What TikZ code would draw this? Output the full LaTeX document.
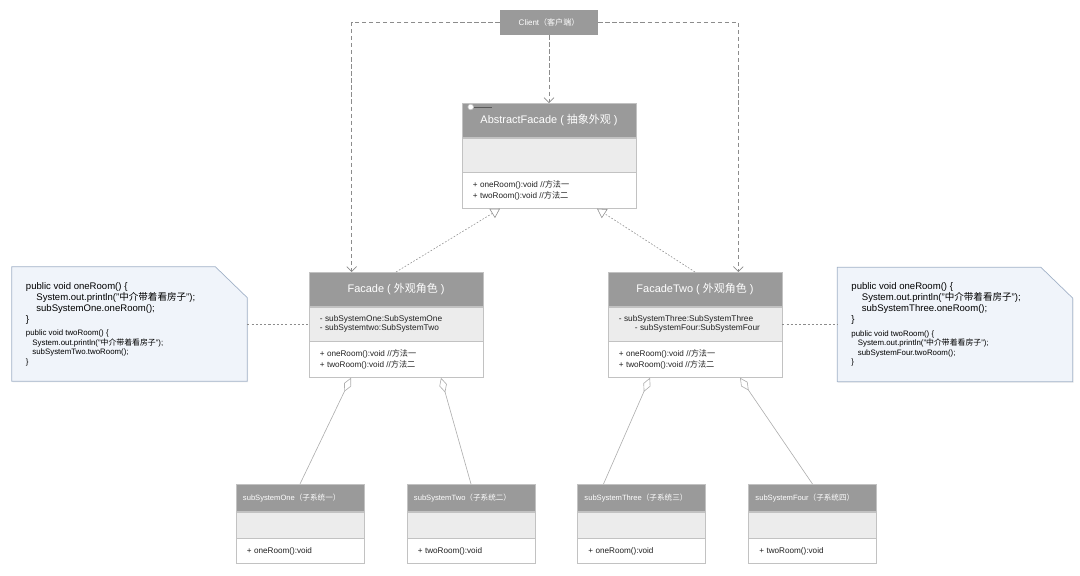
\documentclass[tikz,border=0pt]{standalone}
\usepackage{fontspec}
\setmainfont{Liberation Sans}
\newfontfamily\cjk{Noto Sans CJK SC}
\newcommand{\zh}[1]{{\cjk #1}}
\usetikzlibrary{positioning,arrows.meta,calc,backgrounds,shadows}
\definecolor{hdrgray}{HTML}{9A9A9A}
\definecolor{midgray}{HTML}{ECECEC}
\definecolor{boxline}{HTML}{C2C2C2}
\definecolor{notefill}{HTML}{F0F4FA}
\definecolor{noteline}{HTML}{A2B2C8}
\definecolor{linkgray}{HTML}{8C8C8C}
\definecolor{textgray}{HTML}{222222}

\begin{document}
\begin{tikzpicture}
  [x=0.025cm,y=-0.025cm,
   clshead/.style={draw=boxline,fill=hdrgray,text=white,minimum width=4.35cm,minimum height=0.85cm,inner sep=0pt,font=\fontsize{7.8}{9}\selectfont},
   clsattr/.style={draw=boxline,fill=midgray,text=textgray,text width=3.8cm,inner xsep=0.275cm,inner ysep=0pt,minimum height=0.85cm,align=flush left,font=\fontsize{5.9}{6.1}\selectfont},
   clsmeth/.style={clsattr,fill=white,minimum height=0.9cm,font=\fontsize{5.8}{8.4}\selectfont},
   subhead/.style={clshead,minimum width=3.2cm,text width=2.85cm,inner xsep=0.175cm,minimum height=0.675cm,align=flush left,font=\fontsize{5.4}{6.5}\selectfont},
   subattr/.style={clsattr,minimum width=3.2cm,text width=2.65cm,minimum height=0.65cm},
   submeth/.style={subattr,fill=white,minimum height=0.625cm,font=\fontsize{5.8}{7}\selectfont},
   clienthead/.style={fill=hdrgray,text=white,minimum width=2.45cm,minimum height=0.625cm,inner sep=0pt,font=\fontsize{5.7}{7}\selectfont},
   notebox/.style={minimum width=5.875cm,minimum height=2.85cm,text width=5.175cm,inner xsep=0.35cm,inner ysep=0pt,align=flush left,text=black},
   noteshape/.style={draw=noteline,fill=notefill,line width=0.5pt,drop shadow={opacity=0.12,shadow xshift=0.6pt,shadow yshift=-0.8pt}},
   dep/.style={draw=linkgray,line width=0.5pt,dash pattern=on 3pt off 2pt,-{Straight Barb[length=3.5pt,width=7pt]}},
   real/.style={draw=linkgray,line width=0.4pt,dash pattern=on 1.2pt off 1.2pt,-{Triangle[open,length=6.5pt,width=7.5pt]}},
   aggr/.style={draw=boxline!90!black,line width=0.45pt,{Diamond[open,length=11pt,width=5.5pt]}-},
   notelink/.style={draw=linkgray,line width=0.4pt,dash pattern=on 1.5pt off 1.5pt}]
  \useasboundingbox (0,0) rectangle (1080,575);

  % client
  \node[clienthead] (client) at (549,22.5) {Client\zh{（客户端）}};

  % abstract facade
  \node[clshead,anchor=north] (af) at (549,103) {AbstractFacade ( \zh{抽象外观} )};
  \node[clsattr,below=0pt of af] (afa) {};
  \node[clsmeth,below=0pt of afa] (afm) {+ oneRoom():void //\zh{方法一}\\+ twoRoom():void //\zh{方法二}};
  \draw[black!65,line width=0.4pt] ($(af.north west)+(12,4)$) -- ++(18,0);
  \draw[boxline,fill=white] ($(af.north west)+(9,4)$) circle[radius=2pt];

  % facades
  \node[clshead,anchor=north] (fac) at (396,272) {Facade ( \zh{外观角色} )};
  \node[clsattr,below=0pt of fac] (faca) {- subSystemOne:SubSystemOne\\- subSystemtwo:SubSystemTwo};
  \node[clsmeth,below=0pt of faca] (facm) {+ oneRoom():void //\zh{方法一}\\+ twoRoom():void //\zh{方法二}};

  \node[clshead,anchor=north] (factwo) at (695,272) {FacadeTwo ( \zh{外观角色} )};
  \node[clsattr,below=0pt of factwo] (factwoa) {- subSystemThree:SubSystemThree\\\hspace*{0.4cm}- subSystemFour:SubSystemFour};
  \node[clsmeth,below=0pt of factwoa] (factwom) {+ oneRoom():void //\zh{方法一}\\+ twoRoom():void //\zh{方法二}};

  % subsystems
  \foreach \nm/\x/\nme/\zhn/\op in {sub1/300/One/一/oneRoom,sub2/471/Two/二/twoRoom,sub3/641.5/Three/三/oneRoom,sub4/812.5/Four/四/twoRoom}{
    \node[subhead,anchor=north] (\nm) at (\x,484) {subSystem\nme\zh{（子系统\zhn）}};
    \node[subattr,below=0pt of \nm] (\nm a) {};
    \node[submeth,below=0pt of \nm a] (\nm m) {+ \op():void};
  }

  % notes
  \node[notebox] (noteL) at (129.5,324) {%
    \fontsize{6.8}{7.8}\selectfont
    public void oneRoom() \{\\
    \hspace*{2.6mm}System.out.println("\zh{中介带着看房子}");\\
    \hspace*{2.6mm}subSystemOne.oneRoom();\\
    \}\par
    \vspace{3pt}\fontsize{5.6}{6.7}\selectfont
    public void twoRoom() \{\\
    \hspace*{1.6mm}System.out.println("\zh{中介带着看房子}");\\
    \hspace*{1.6mm}subSystemTwo.twoRoom();\\
    \}\par};
  \node[notebox] (noteR) at (955,324.5) {%
    \fontsize{6.8}{7.8}\selectfont
    public void oneRoom() \{\\
    \hspace*{2.6mm}System.out.println("\zh{中介带着看房子}");\\
    \hspace*{2.6mm}subSystemThree.oneRoom();\\
    \}\par
    \vspace{3pt}\fontsize{5.6}{6.7}\selectfont
    public void twoRoom() \{\\
    \hspace*{1.6mm}System.out.println("\zh{中介带着看房子}");\\
    \hspace*{1.6mm}subSystemFour.twoRoom();\\
    \}\par};
  \begin{scope}[on background layer]
    \foreach \nt in {noteL,noteR}
      \path[noteshape] (\nt.south west) -- (\nt.north west) -- ($(\nt.north east)+(-32,0)$)
        -- ($(\nt.north east)+(0,31)$) -- (\nt.south east) -- cycle;
  \end{scope}

  % connectors
  \path[dep] (client.west) -| ($(fac.north west)+(43,0)$);
  \path[dep] (client.east) -| ($(factwo.north east)+(-44,0)$);
  \path[dep] (client.south) -- (af.north);

  \path[real] (fac.north) -- ($(afm.south)+(-49,0)$);
  \path[real] (factwo.north) -- ($(afm.south)+(48,0)$);

  \path[notelink] (noteL.east) -- (noteL.east -| faca.west);
  \path[notelink] (factwoa.east) -- (factwoa.east -| noteR.west);

  \path[aggr] ($(facm.south)+(-45,0)$) -- (sub1.north);
  \path[aggr] ($(facm.south)+(45,0)$) -- (sub2.north);
  \path[aggr] ($(factwom.south)+(-45,0)$) -- ($(sub3.north)+(-38,0)$);
  \path[aggr] ($(factwom.south)+(45,0)$) -- (sub4.north);

\end{tikzpicture}
\end{document}
